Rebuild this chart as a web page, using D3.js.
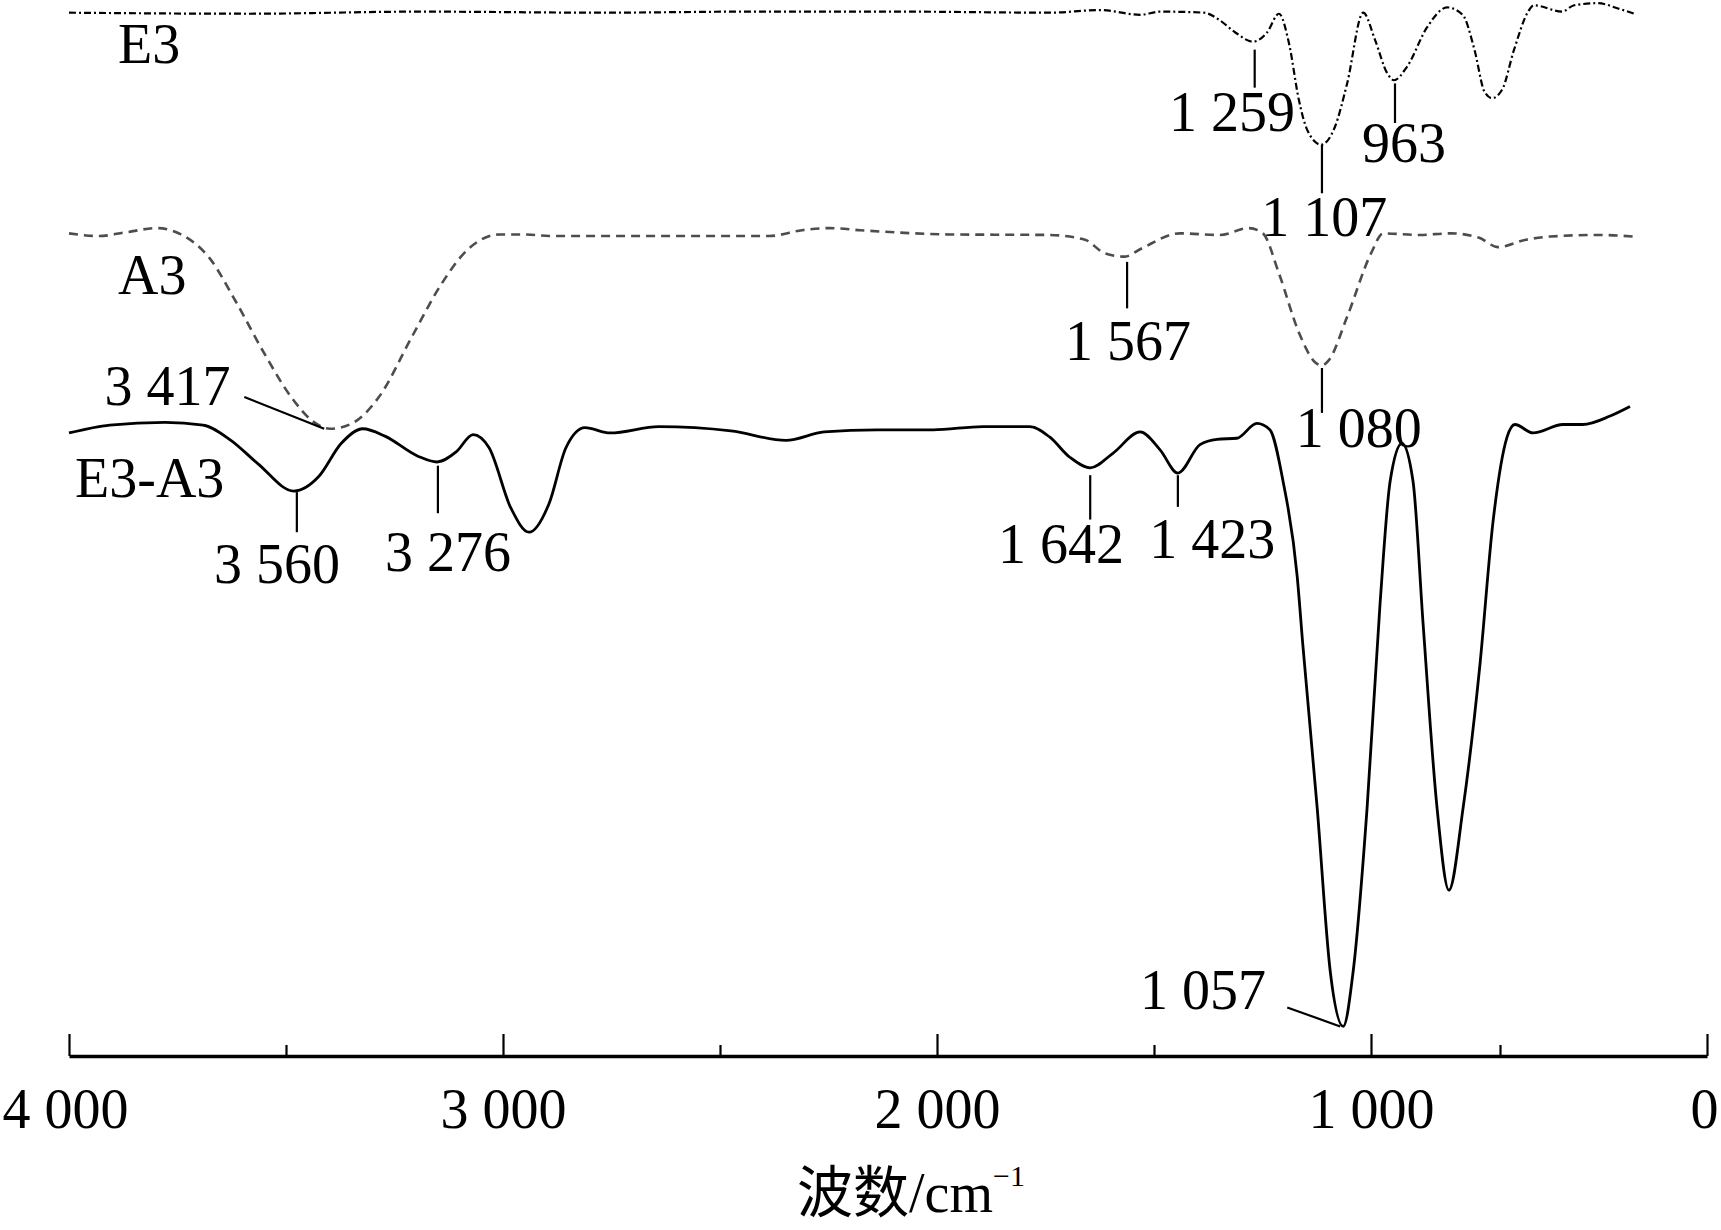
<!DOCTYPE html>
<html>
<head>
<meta charset="utf-8">
<script src="https://cdn.jsdelivr.net/npm/d3@7"></script>
<style>
    body { margin: 0; background: #fff; }
    text { font-family: "Liberation Serif", "Times New Roman", serif; fill: #000; }
</style>
</head>
<body>
<div id="main"></div>
<script>
// spectra: [wavenumber on the drawn axis, relative transmittance]
var e3Points = [
    [4000, 98.8], [3583, 98.7], [3191, 98.9], [2777, 98.8], [2431, 98.9], [2085, 98.9],
    [1740, 98.8], [1624, 99.05], [1532, 98.6], [1486, 98.9], [1385, 98.8], [1349, 98.1],
    [1312, 96.9], [1272, 96.05], [1240, 96.9], [1212, 98.7], [1189, 95.9], [1166, 90.5],
    [1147, 87.7], [1115, 86.3], [1083, 88.0], [1055, 92.1], [1018, 98.8], [984, 96.2],
    [938, 93.1], [911, 92.4], [860, 93.7], [783, 97.4], [705, 99.3], [645, 98.6],
    [599, 95.3], [560, 91.3], [531, 90.7], [495, 91.5], [466, 95.3], [432, 98.9],
    [418, 99.5], [350, 98.9], [321, 99.5], [263, 99.7], [215, 99.2], [176, 98.7],
];

var a3Points = [
    [4000, 77.9], [3931, 77.65], [3869, 78.0], [3797, 78.4], [3742, 77.8], [3677, 75.6],
    [3615, 71.4], [3551, 66.6], [3488, 62.4], [3438, 60.1], [3399, 59.4], [3348, 59.9],
    [3286, 62.4], [3210, 68.1], [3145, 72.9], [3083, 76.3], [3007, 77.8], [2945, 77.8],
    [2894, 77.65], [2641, 77.65], [2387, 77.65], [2311, 78.2], [2247, 78.4], [2177, 78.2],
    [1970, 77.8], [1740, 77.75], [1659, 77.3], [1613, 76.0], [1567, 75.7], [1532, 76.4],
    [1440, 77.9], [1349, 77.75], [1281, 78.4], [1249, 77.9], [1212, 74.1], [1166, 68.5],
    [1129, 65.7], [1113, 65.4], [1097, 65.9], [1055, 70.0], [1000, 76.0], [953, 77.9],
    [814, 77.75], [691, 77.9], [583, 77.5], [508, 76.6], [437, 77.3], [379, 77.6],
    [263, 77.75], [176, 77.6],
];

var e3a3Points = [
    [4000, 59.0], [3906, 59.75], [3779, 60.0], [3691, 59.75], [3627, 58.3], [3565, 56.1],
    [3482, 53.5], [3424, 54.9], [3373, 58.0], [3323, 59.4], [3272, 58.7], [3196, 56.8],
    [3152, 56.25], [3108, 57.2], [3069, 58.85], [3032, 57.6], [2982, 51.9], [2940, 49.6],
    [2894, 52.3], [2855, 57.6], [2811, 59.5], [2753, 59.0], [2641, 59.6], [2475, 59.2],
    [2348, 58.3], [2260, 59.1], [2138, 59.3], [2009, 59.3], [1894, 59.6], [1786, 59.6],
    [1740, 58.6], [1694, 56.7], [1647, 55.7], [1594, 57.1], [1532, 59.1], [1486, 57.4],
    [1445, 55.2], [1394, 57.9], [1355, 58.4], [1309, 58.5], [1263, 59.9], [1233, 59.3],
    [1203, 54.5], [1170, 45.4], [1157, 38.9], [1124, 23.5], [1094, 8.05], [1064, 2.8],
    [1041, 8.05], [1009, 23.5], [965, 42.8], [926, 54.4], [880, 58.0], [837, 54.4],
    [798, 40.9], [744, 23.5], [698, 15.7], [643, 23.5], [578, 37.0], [527, 50.6],
    [483, 58.6], [464, 59.8], [420, 59.0], [348, 59.8], [300, 59.8], [234, 60.6],
    [186, 61.5],
];

// curve names: [text, x, baseline]
var seriesNames = [
    ["E3", 3887, 94.0],
    ["A3", 3887, 72.2],
    ["E3-A3", 3986, 52.9],
];

// peak marks drawn as short vertical lines: [text, x of line, line top, line bottom, label x, label baseline]
var peakTicks = [
    ["3 560", 3475, 53.4, 49.6, 3521, 44.8],
    ["3 276", 3150, 55.9, 51.4, 3127, 45.9],
    ["1 642", 1647, 55.0, 50.8, 1714, 46.7],
    ["1 423", 1445, 55.0, 52.0, 1366, 47.2],
    ["1 259", 1268, 95.3, 91.7, 1320, 87.6],
    ["1 107", 1113, 86.3, 81.7, 1108, 77.65],
    ["963", 907, 92.1, 88.35, 872, 84.65],
    ["1 567", 1562, 75.2, 70.8, 1560, 65.9],
    ["1 080", 1113, 65.15, 60.9, 1028, 57.7],
];

// peak marks drawn with a slanted leader: [text, x1, y1, x2, y2, label x, label baseline]
var peakLeaders = [
    ["3 417", 3596, 62.4, 3412, 59.4, 3773, 61.65],
    ["1 057", 1193, 4.6, 1071, 2.8, 1387, 4.45],
];

var majorTicks = [4000, 3000, 2000, 1000, 0];
var minorTicks = [3500, 2500, 1500, 500];

var ctx = {
    w: 1721,
    h: 1230,
    top: 0,
    axisY: 1056,
    FONT: 56,
};

// the printed axis is not evenly spaced below 1 000, so the scale is piecewise
var x = d3.scaleLinear().domain([4000, 1000, 500, 0]).range([69, 1371, 1500, 1707]);
var y = d3.scaleLinear().domain([0, 100]).range([ctx.axisY, ctx.top]);

var fmtTick = function (d) {
    if (d < 1000) return String(d);
    return Math.floor(d / 1000) + " " + String(d % 1000).padStart(3, "0");
};

var drawCurves = function (svg) {
    var line = d3
        .line()
        .x((d) => x(d[0]))
        .y((d) => y(d[1]))
        .curve(d3.curveMonotoneX);

    svg.append("path")
        .datum(e3Points)
        .attr("d", line)
        .attr("fill", "none")
        .attr("stroke", "#000")
        .attr("stroke-width", 2.2)
        .attr("stroke-dasharray", "7,3,2,3");

    svg.append("path")
        .datum(a3Points)
        .attr("d", line)
        .attr("fill", "none")
        .attr("stroke", "#4d4d4d")
        .attr("stroke-width", 2.6)
        .attr("stroke-dasharray", "9,6");

    svg.append("path")
        .datum(e3a3Points)
        .attr("d", line)
        .attr("fill", "none")
        .attr("stroke", "#000")
        .attr("stroke-width", 2.8);
};

var drawLabels = function (svg) {
    svg.append("g")
        .selectAll("text")
        .data(seriesNames)
        .enter()
        .append("text")
        .attr("x", (d) => x(d[1]))
        .attr("y", (d) => y(d[2]))
        .attr("font-size", ctx.FONT)
        .text((d) => d[0]);

    var ticks = svg.append("g").attr("id", "peaks");
    ticks.selectAll("line")
        .data(peakTicks)
        .enter()
        .append("line")
        .attr("x1", (d) => x(d[1]))
        .attr("x2", (d) => x(d[1]))
        .attr("y1", (d) => y(d[2]))
        .attr("y2", (d) => y(d[3]))
        .attr("stroke", "#000")
        .attr("stroke-width", 2.2);
    ticks.selectAll("text")
        .data(peakTicks)
        .enter()
        .append("text")
        .attr("x", (d) => x(d[4]))
        .attr("y", (d) => y(d[5]))
        .attr("text-anchor", "middle")
        .attr("font-size", ctx.FONT)
        .text((d) => d[0]);

    var leaders = svg.append("g").attr("id", "leaders");
    leaders.selectAll("line")
        .data(peakLeaders)
        .enter()
        .append("line")
        .attr("x1", (d) => x(d[1]))
        .attr("y1", (d) => y(d[2]))
        .attr("x2", (d) => x(d[3]))
        .attr("y2", (d) => y(d[4]))
        .attr("stroke", "#000")
        .attr("stroke-width", 2.2);
    leaders.selectAll("text")
        .data(peakLeaders)
        .enter()
        .append("text")
        .attr("x", (d) => x(d[5]))
        .attr("y", (d) => y(d[6]))
        .attr("text-anchor", "middle")
        .attr("font-size", ctx.FONT)
        .text((d) => d[0]);
};

var drawAxis = function (svg) {
    var minor = svg.append("g")
        .attr("transform", `translate(0,${ctx.axisY})`)
        .call(d3.axisBottom(x).tickValues(minorTicks).tickSize(-11).tickFormat(""));
    minor.select(".domain").remove();
    minor.selectAll("line").attr("stroke-width", 2.2);

    var major = svg.append("g")
        .attr("transform", `translate(0,${ctx.axisY})`)
        .call(
            d3.axisBottom(x)
                .tickValues(majorTicks)
                .tickSizeInner(-22)
                .tickSizeOuter(0)
                .tickPadding(32)
                .tickFormat(fmtTick)
        );
    major.select(".domain").attr("stroke-width", 3.6);
    major.selectAll(".tick line").attr("stroke-width", 2.2);
    major.selectAll("text")
        .attr("font-size", ctx.FONT)
        .attr("font-family", "Liberation Serif, serif")
        .attr("fill", "#000");
    // the first and last labels sit a little inside the tick, as in the print
    major.selectAll(".tick text")
        .filter((d) => d === 4000)
        .attr("dx", -4);
    major.selectAll(".tick text")
        .filter((d) => d === 0)
        .attr("dx", -3);

    // axis title
    var title = svg.append("text")
        .attr("x", 911)
        .attr("y", 1212)
        .attr("text-anchor", "middle")
        .attr("font-size", ctx.FONT);
    title.append("tspan")
        .attr("font-family", "Noto Sans CJK SC")
        .attr("font-size", 56)
        .text("波数");
    title.append("tspan").text("/cm");
    title.append("tspan")
        .attr("font-size", 30)
        .attr("dy", -26)
        .text("\u22121");
};

var createViz = function () {
    var svgEl = d3.select("#main").append("svg");
    svgEl.attr("width", ctx.w);
    svgEl.attr("height", ctx.h);
    drawCurves(svgEl);
    drawLabels(svgEl);
    drawAxis(svgEl);
};

createViz();
</script>
</body>
</html>
